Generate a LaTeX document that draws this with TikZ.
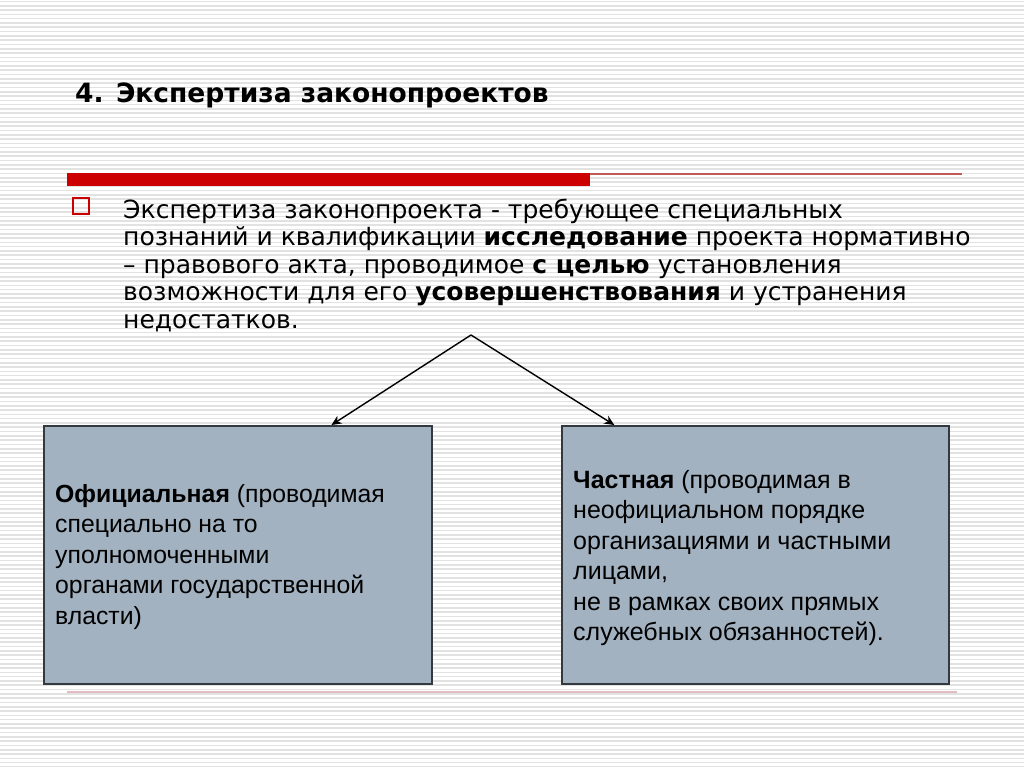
\documentclass[tikz,border=0pt]{standalone}
\usepackage{fontspec}
\usepackage{xcolor}
\usetikzlibrary{calc, positioning, arrows.meta}
\newfontfamily\verdfont{DejaVu Sans}
\newfontfamily\arialfont{Liberation Sans}
\definecolor{slidered}{HTML}{CC0000}
\definecolor{rulered}{HTML}{C05A5A}
\definecolor{rulepink}{HTML}{E2BCC4}
\definecolor{stripegray}{HTML}{E2E2E2}
\definecolor{boxblue}{HTML}{A3B2C1}
\definecolor{boxedge}{HTML}{33393F}

\tikzset{
  stripe/.style={stripegray, line width=1.6pt},
  kindbox/.style={draw=boxedge, line width=1.8pt, fill=boxblue, inner sep=0pt, anchor=north west},
  boxtext/.style={anchor=base west, align=left, inner sep=0pt, font=\arialfont\fontsize{25}{30.5}\selectfont},
  branch/.style={black, line width=1.4pt, -{Stealth[length=10pt,width=9pt]}}
}

\begin{document}
\begin{tikzpicture}[x=1pt, y=-1pt]
  \useasboundingbox (0,0) rectangle (1024,767);
  \fill[white] (0,0) rectangle (1024,767);
  \foreach \y in {1.5,5.8,...,767} \draw[stripe] (0,\y) -- (1024,\y);

  \node[anchor=base west, inner sep=0pt, font=\verdfont\bfseries\fontsize{26.5}{30}\selectfont] (title) at (75,103) {4. Экспертиза законопроектов};

  \fill[slidered] (67,173) rectangle (590,186);
  \draw[rulered, line width=1.3pt] (590,174) -- (962,174);

  \node[draw=slidered, line width=2pt, minimum size=16pt, inner sep=0pt] (bullet) at (80.5,206.5) {};
  % base anchor of a multi-line node sits on its last line
  \node[anchor=base west, align=left, inner sep=0pt, font=\verdfont\fontsize{25}{27.6}\selectfont] (definition) at (123,328.4)
    {Экспертиза законопроекта - требующее специальных\\
     познаний и квалификации \textbf{исследование} проекта нормативно\\
     – правового акта, проводимое \textbf{с целью} установления\\
     возможности для его \textbf{усовершенствования} и устранения\\
     недостатков.};

  \node[kindbox, minimum width=388pt, minimum height=258pt] (official) at (43,425) {};
  \node[kindbox, minimum width=387pt, minimum height=258pt] (private) at (561,425) {};

  \node[boxtext, font=\arialfont\fontsize{24.8}{30.5}\selectfont] (officialtext) at (55,624)
    {\textbf{Официальная} (проводимая\\
     специально на то\\
     уполномоченными\\
     органами государственной\\
     власти)};
  \node[boxtext] (privatetext) at (573,640.5)
    {\textbf{Частная} (проводимая в\\
     неофициальном порядке\\
     организациями и частными\\
     лицами,\\
     не в рамках своих прямых\\
     служебных обязанностей).};

  \coordinate (apex) at (471,335);
  \draw[branch] (apex) -- ($(official.north west)!0.74!(official.north east)$);
  \draw[branch] (apex) -- ($(private.north west)!0.137!(private.north east)$);

  \draw[rulepink, line width=2.2pt] (67,692) -- (957,692);
\end{tikzpicture}
\end{document}
